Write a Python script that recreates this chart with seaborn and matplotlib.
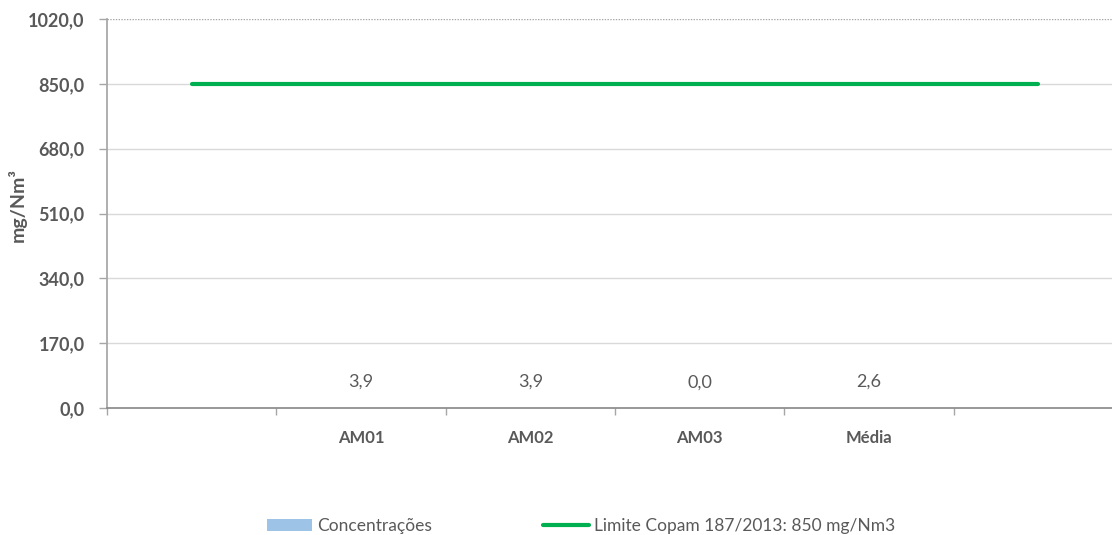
import matplotlib
matplotlib.use("Agg")
import matplotlib.pyplot as plt
import seaborn as sns
import pandas as pd
from matplotlib.lines import Line2D
from matplotlib.patches import Patch
from matplotlib.ticker import FuncFormatter, FixedLocator

# data
pontos = ["AM01", "AM02", "AM03", "Média"]
concentracoes = [3.9, 3.9, 0.0, 2.6]
limite = 850
yticks = [0, 170, 340, 510, 680, 850, 1020]

# empty slots on both sides of the category axis
ordem = [" ", "AM01", "AM02", "AM03", "Média", "  "]

sns.set_theme(style="white")
plt.rcParams['font.family'] = ['Lato', 'DejaVu Sans']
cinza = "#595959"

df = pd.DataFrame({"ponto": pontos, "valor": concentracoes})

fig = plt.figure(figsize=(11.12, 5.35), dpi=100)
ax = fig.add_axes([107/1112, 1-408/535, (1123-107)/1112, (408-19)/535])

sns.barplot(data=df, x="ponto", y="valor", order=ordem, color="#9DC3E6",
            width=0.32, saturation=1, ax=ax)
sns.lineplot(x=list(range(len(ordem))), y=[limite]*len(ordem), color="#00B050",
             linewidth=3, ax=ax)

for i, p in enumerate(ordem):
    if p in pontos:
        v = concentracoes[pontos.index(p)]
        ax.annotate(f"{v:.1f}".replace(".", ","), (i, v), xytext=(0, 18),
                    textcoords="offset points", ha="center", va="center",
                    fontsize=13, color=cinza)

ax.set_xlim(-0.5, len(ordem) - 0.5)
ax.set_ylim(0, 1020)
ax.set_yticks(yticks)
ax.yaxis.set_major_formatter(FuncFormatter(lambda v, _: f"{v:.1f}".replace(".", ",")))
for t in yticks[1:-1]:
    ax.axhline(t, color="#D9D9D9", linewidth=1, zorder=0)
ax.axhline(1020, color="#A6A6A6", linewidth=1, linestyle=(0, (1, 1)), zorder=0)

ax.xaxis.set_major_locator(FixedLocator([i - 0.5 for i in range(len(ordem) + 1)]))
ax.xaxis.set_minor_locator(FixedLocator(list(range(len(ordem)))))
ax.set_xticklabels([], minor=False)
ax.set_xticklabels(ordem, minor=True, fontsize=12, fontweight="bold", color=cinza)
ax.tick_params(axis="x", which="major", bottom=True, length=5, color="#A6A6A6", width=1)
ax.tick_params(axis="x", which="minor", bottom=False, length=0, pad=16)
ax.tick_params(axis="y", left=True, length=6, color="#A6A6A6", width=1, pad=10)
for lab in ax.get_yticklabels():
    lab.set_fontweight("bold")
    lab.set_fontsize(13)
    lab.set_color(cinza)

ax.set_xlabel("")
ax.set_ylabel("mg/Nm³", fontsize=14, fontweight="bold", color=cinza)
ax.yaxis.set_label_coords(-80/1016, 0.523)

for s in ["top", "right"]:
    ax.spines[s].set_visible(False)
ax.spines["left"].set_color("#A6A6A6")
ax.spines["bottom"].set_color("#868686")
ax.spines["bottom"].set_linewidth(1.2)

handles = [Patch(facecolor="#9DC3E6", edgecolor="none", label="Concentrações"),
           Line2D([], [], color="#00B050", linewidth=3,
                  label="Limite Copam 187/2013: 850 mg/Nm3")]
fig.legend(handles=handles, loc="center left", bbox_to_anchor=(255/1112, 1-526/535),
           ncol=2, frameon=False, fontsize=12.5, handlelength=2.6, handleheight=0.7,
           handletextpad=0.3, columnspacing=6.4, labelcolor=cinza, borderpad=0.2)

fig.savefig("out.png", dpi=100)
